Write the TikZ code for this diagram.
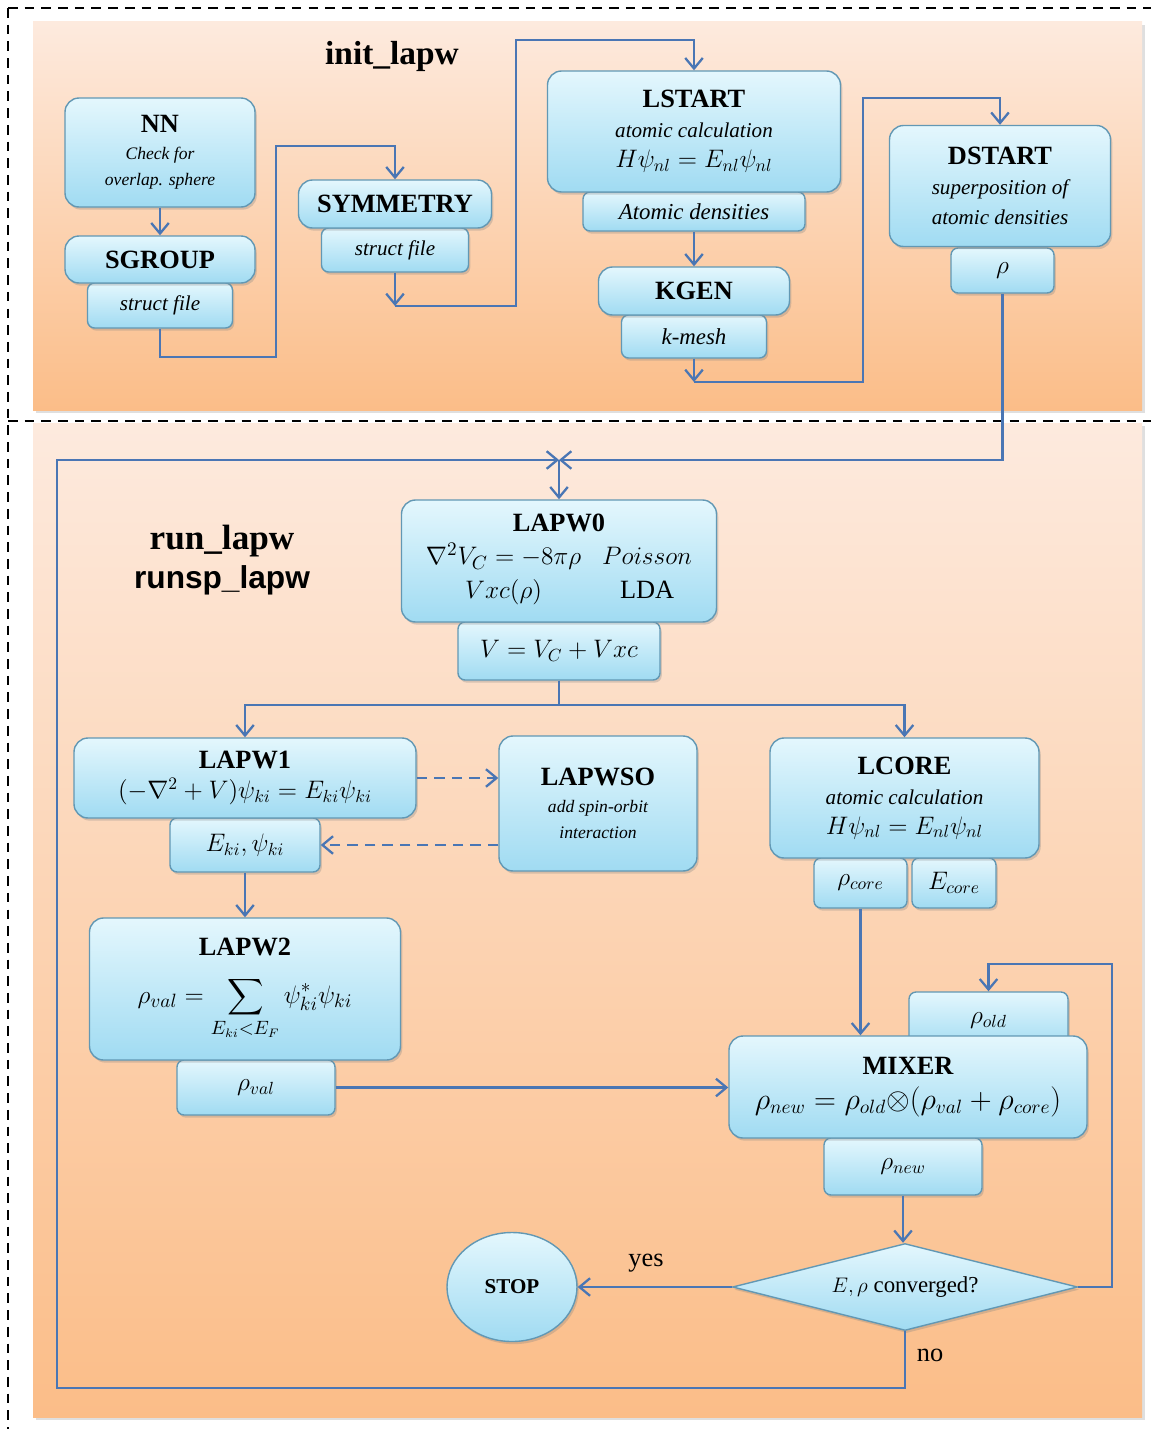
\documentclass[tikz,border=0pt]{standalone}
\usepackage{amsmath}
\usepackage{fontspec}
\setmainfont{Liberation Serif}
\newfontfamily\labelsans{Liberation Sans}
\usetikzlibrary{arrows.meta,shapes.geometric,shadows}

\definecolor{boxtop}{RGB}{228,247,253}
\definecolor{boxbot}{RGB}{160,219,242}
\definecolor{boxline}{RGB}{98,152,180}
\definecolor{paneltop}{RGB}{253,234,222}
\definecolor{panelbot}{RGB}{251,189,136}
\definecolor{flow}{RGB}{74,118,180}

\newcommand{\boxtitle}[1]{{\fontsize{15}{18}\selectfont\bfseries #1}}
\newcommand{\boxnote}[2][12]{{\fontsize{#1}{#1}\selectfont\itshape #2}}
\newcommand{\boxeq}[1]{{\fontsize{14}{17}\selectfont$#1$}}

\begin{document}
\begin{tikzpicture}[x=1cm, y=-1cm, >={Straight Barb[length=6pt,width=10pt]}, line width=1.3pt,
    panel/.style={top color=paneltop, bottom color=panelbot,
      drop shadow={opacity=0.25, shadow xshift=1.5pt, shadow yshift=-1.5pt}},
    box/.style={draw=boxline, line width=0.8pt, top color=boxtop, bottom color=boxbot,
      rounded corners=8pt, align=center, inner sep=1pt, font=\fontsize{12}{17}\selectfont,
      drop shadow={opacity=0.3, shadow xshift=1pt, shadow yshift=-1.5pt}},
    sub/.style={box, rounded corners=4pt},
    flowline/.style={draw=flow, line width=1.3pt},
    frame/.style={dash pattern=on 5.5pt off 4pt, line width=1.2pt}]
  \useasboundingbox (0,0) rectangle (23.02,28.58);

  % 背景面板
  \fill[panel] (0.66,0.44) rectangle (22.84,8.20);
  \fill[panel] (0.66,8.46) rectangle (22.84,28.34);
  % 虚线边框
  \draw[frame] (0.16,0.16) -- (23.02,0.16);
  \draw[frame] (0.16,0.16) -- (0.16,28.58);
  \draw[frame] (0.16,8.42) -- (23.02,8.42);

  % 标题
  \node[font=\fontsize{19}{22}\selectfont\bfseries] (init) at (7.84,1.12) {init\_lapw};
  \node[font=\fontsize{20}{23}\selectfont\bfseries] (run) at (4.44,10.82) {run\_lapw};
  \node[font=\fontsize{18}{21}\selectfont\bfseries\labelsans] (runsp) at (4.44,11.60) {runsp\_lapw};

  % init_lapw 各步骤
  \node[sub, minimum width=2.90cm, minimum height=0.90cm] (sgfile) at (3.20,6.11) {\boxnote{struct file}};
  \node[box, minimum width=3.80cm, minimum height=0.94cm] (sgroup) at (3.20,5.19) {\boxtitle{SGROUP}};
  \node[box, minimum width=3.80cm, minimum height=2.18cm, font=\fontsize{10}{15}\selectfont]
       (nn) at (3.20,3.05) {\boxtitle{NN}\\ \boxnote[10]{Check for}\\ \boxnote[10]{overlap. sphere}};
  \node[sub, minimum width=2.94cm, minimum height=0.88cm] (symfile) at (7.90,5.00) {\boxnote{struct file}};
  \node[box, minimum width=3.86cm, minimum height=0.96cm] (sym) at (7.90,4.08) {\boxtitle{SYMMETRY}};
  \node[sub, minimum width=4.44cm, minimum height=0.78cm] (atdens) at (13.88,4.23) {\boxnote[13]{Atomic densities}};
  \node[box, minimum width=5.86cm, minimum height=2.42cm]
       (lstart) at (13.88,2.63) {\boxtitle{LSTART}\\ \boxnote{atomic calculation}\\ \boxeq{H\psi_{nl}=E_{nl}\psi_{nl}}};
  \node[sub, minimum width=2.90cm, minimum height=0.86cm] (kmesh) at (13.88,6.73) {\boxnote[13]{k-mesh}};
  \node[box, minimum width=3.82cm, minimum height=0.96cm] (kgen) at (13.88,5.82) {\boxtitle{KGEN}};
  \node[sub, minimum width=2.06cm, minimum height=0.90cm] (rho) at (20.05,5.41) {\boxeq{\rho}};
  \node[box, minimum width=4.42cm, minimum height=2.42cm]
       (dstart) at (20.00,3.72) {\boxtitle{DSTART}\\ \boxnote{superposition of}\\ \boxnote{atomic densities}};

  % init_lapw 连线
  \coordinate (bendA) at (7.90,6.12);
  \coordinate (bendB) at (13.88,7.64);
  \draw[flowline,->] (nn) -- (sgroup);
  \draw[flowline,->] (sgfile.south) |- (5.52,7.14) |- (7.90,2.92) -- (sym.north);
  \draw[flowline,->] (symfile) -- (bendA);
  \draw[flowline,->] (bendA) -| (10.32,0.80) -| (lstart.north);
  \draw[flowline,->] (atdens) -- (kgen);
  \draw[flowline,->] (kmesh) -- (bendB);
  \draw[flowline,->] (bendB) -| (17.26,1.96) -| (dstart.north);

  % SCF 循环各步骤
  \node[sub, minimum width=4.04cm, minimum height=1.16cm] (vsum) at (11.18,13.02) {\boxeq{V=V_C+Vxc}};
  \node[box, minimum width=6.30cm, minimum height=2.44cm] (lapw0) at (11.18,11.22)
       {\boxtitle{LAPW0}\\[5pt] {\fontsize{15}{18}\selectfont\begin{tabular}{@{}c@{\hspace{0.8em}}c@{}}
        $\nabla^2V_C=-8\pi\rho$ & $Poisson$\\[1pt] $Vxc(\rho)$ & LDA\end{tabular}}};
  \node[sub, minimum width=3.00cm, minimum height=1.08cm] (eki) at (4.90,16.90) {\boxeq{E_{ki},\psi_{ki}}};
  \node[box, minimum width=6.84cm, minimum height=1.60cm] (lapw1) at (4.90,15.56)
       {\boxtitle{LAPW1}\\ \boxeq{(-\nabla^2+V)\psi_{ki}=E_{ki}\psi_{ki}}};
  \node[box, minimum width=3.96cm, minimum height=2.70cm, font=\fontsize{10}{15}\selectfont] (lapwso) at (11.96,16.07)
       {\boxtitle{LAPWSO}\\ \boxnote[10]{add spin-orbit}\\ \boxnote[10]{interaction}};
  \node[sub, minimum width=3.16cm, minimum height=1.10cm] (rhoval) at (5.12,21.75) {\boxeq{\rho_{val}}};
  \node[box, minimum width=6.22cm, minimum height=2.84cm] (lapw2) at (4.90,19.78)
       {\boxtitle{LAPW2}\\[10pt] {\fontsize{15}{18}\selectfont$\displaystyle\rho_{val}=\sum_{E_{ki}<E_F}\psi^*_{ki}\psi_{ki}$}};
  \node[sub, minimum width=1.86cm, minimum height=1.00cm] (rhocore) at (17.21,17.66) {\boxeq{\rho_{core}}};
  \node[sub, minimum width=1.68cm, minimum height=1.00cm] (ecore) at (19.08,17.66) {\boxeq{E_{core}}};
  \node[box, minimum width=5.38cm, minimum height=2.40cm] (lcore) at (18.09,15.96)
       {\boxtitle{LCORE}\\ \boxnote{atomic calculation}\\ \boxeq{H\psi_{nl}=E_{nl}\psi_{nl}}};
  \node[sub, minimum width=3.16cm, minimum height=1.14cm] (rhonew) at (18.06,23.33) {\boxeq{\rho_{new}}};
  \node[sub, minimum width=3.18cm, minimum height=1.16cm] (rhoold) at (19.77,20.42) {\boxeq{\rho_{old}}};
  \node[box, minimum width=7.16cm, minimum height=2.04cm] (mixer) at (18.16,21.74)
       {\boxtitle{MIXER}\\[3pt] {\fontsize{16}{19}\selectfont$\rho_{new}=\rho_{old}{\otimes}(\rho_{val}+\rho_{core})$}};
  \node[box, diamond, aspect=4, sharp corners, inner sep=0pt, minimum width=6.90cm, minimum height=1.74cm,
        font=\fontsize{13}{15}\selectfont] (conv) at (18.10,25.74) {$E,\rho$ converged?};
  \node[box, ellipse, minimum width=2.60cm, minimum height=2.18cm,
        font=\fontsize{12}{14}\selectfont\bfseries] (stop) at (10.24,25.74) {STOP};

  % SCF 循环连线
  \coordinate (join) at (11.18,9.20);
  \coordinate (split) at (11.18,14.10);
  \draw[flowline,->] (rho.south) |- (join);
  \draw[flowline,->] (conv.south) |- (1.14,27.76) |- (join);
  \draw[flowline,->] (join) -- (lapw0);
  \draw[flowline] (vsum) -- (split);
  \draw[flowline,->] (split) -| (lapw1);
  \draw[flowline,->] (split) -| (lcore);
  \draw[flowline,->,dash pattern=on 6pt off 4pt] (lapw1.east) -- (lapw1.east -| lapwso.west);
  \draw[flowline,->,dash pattern=on 6pt off 4pt] (lapwso.west |- eki) -- (eki.east);
  \draw[flowline,->] (eki) -- (lapw2);
  \draw[flowline,->] (rhoval.east) -- (rhoval.east -| mixer.west);
  \draw[flowline,->] (rhocore.south) -- (rhocore.south |- mixer.north);
  \draw[flowline,->] (rhonew.south) -- (rhonew.south |- conv.north);
  \draw[flowline,->] (conv.west) -- (stop.east);
  \draw[flowline,->] (conv.east) -| (22.24,19.28) -| (rhoold.north);

  % 判断分支标注
  \node[font=\fontsize{15}{17}\selectfont] (yes) at (12.92,25.26) {yes};
  \node[font=\fontsize{15}{17}\selectfont] (no) at (18.60,27.10) {no};
\end{tikzpicture}
\end{document}
